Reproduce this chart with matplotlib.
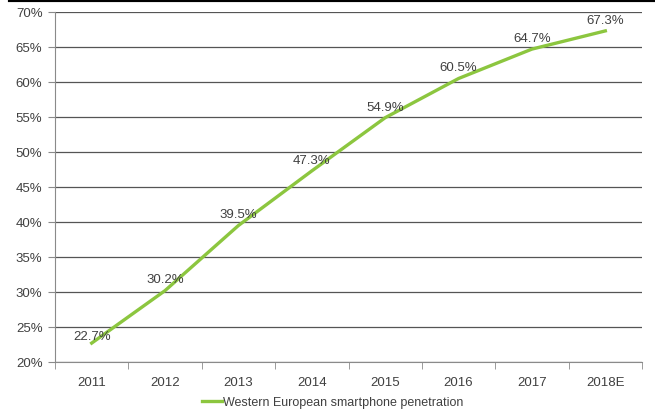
import numpy as np
import matplotlib.pyplot as plt

plt.rcParams['font.family'] = ['Liberation Sans', 'DejaVu Sans']

years = ['2011', '2012', '2013', '2014', '2015', '2016', '2017', '2018E']
penetration = [22.7, 30.2, 39.5, 47.3, 54.9, 60.5, 64.7, 67.3]
series_name = 'Western European smartphone penetration'

text_col = '#404040'
grid_col = '#555555'
green = '#8cc63f'

fig = plt.figure(figsize=(6.55, 4.14), dpi=100)
ax = fig.add_axes([55 / 655, 1 - 363 / 414, 587 / 655, 350 / 414])

x = np.arange(len(years))
ax.plot(x, penetration, color=green, lw=2.4, label=series_name, zorder=3)
for xi, v in zip(x, penetration):
    dy = 5 if xi == 0 else 8
    ax.annotate(f'{v:.1f}%', (xi, v), xytext=(0, dy), textcoords='offset points',
                ha='center', va='center', fontsize=9.5, color=text_col, zorder=4)

ax.set_xlim(-0.5, len(years) - 0.5)
ax.set_ylim(20, 70)
ax.set_yticks(np.arange(20, 71, 5))
ax.set_yticklabels([f'{t}%' for t in range(20, 71, 5)])
ax.set_xticks(x)
ax.set_xticklabels(years)
ax.set_xticks(np.arange(-0.5, len(years), 1), minor=True)
ax.tick_params(axis='x', which='major', length=0, pad=10, labelsize=9.5, labelcolor=text_col)
ax.tick_params(axis='x', which='minor', length=5, color='#8a8a8a', direction='out')
ax.tick_params(axis='y', length=5, color='#8a8a8a', pad=4, labelsize=9.5, labelcolor=text_col)

ax.grid(axis='y', color=grid_col, lw=0.9)
ax.set_axisbelow(True)
for s in ['top', 'right']:
    ax.spines[s].set_visible(False)
ax.spines['left'].set_color('#8a8a8a')
ax.spines['bottom'].set_color('#8a8a8a')

# black rule across the top
fig.add_artist(plt.Line2D([10 / 655, 1], [1 - 1 / 414, 1 - 1 / 414], color='black', lw=3))

leg = fig.legend(loc='center', bbox_to_anchor=(333 / 655, 1 - 403 / 414), frameon=False,
                 fontsize=9, handlelength=1.6, handletextpad=0.1)
for t in leg.get_texts():
    t.set_color(text_col)

fig.savefig('out.png', dpi=100)
